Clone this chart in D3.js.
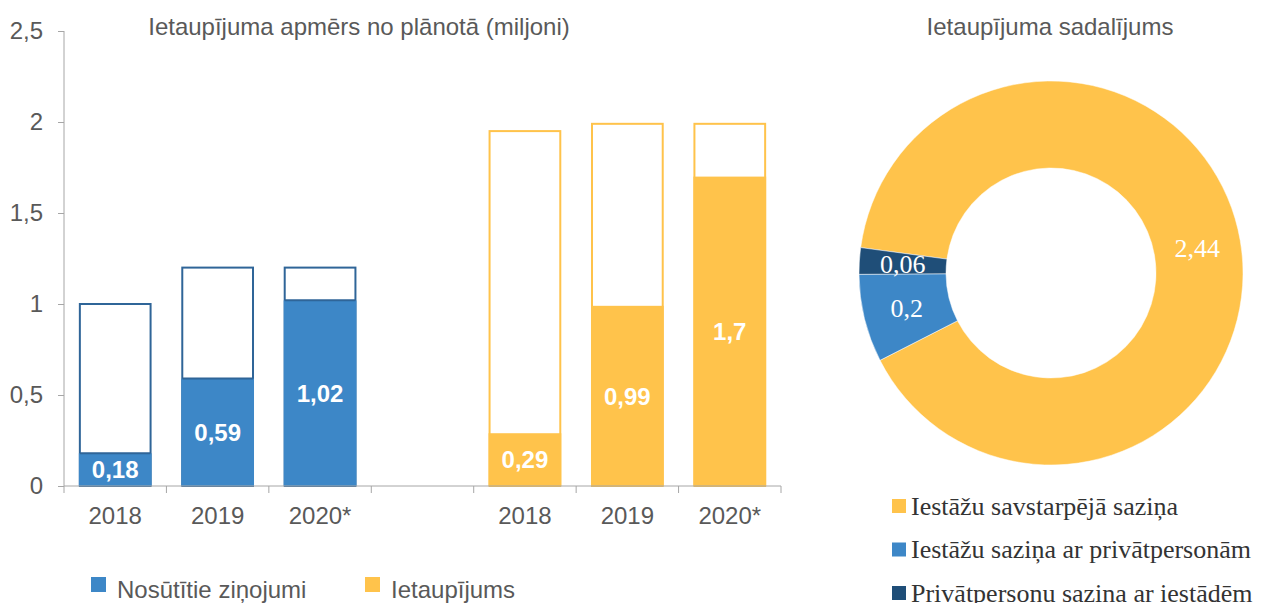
<!DOCTYPE html>
<html>
<head>
<meta charset="utf-8">
<script src="https://cdn.jsdelivr.net/npm/d3@7"></script>
<style>
  body { margin: 0; background: #fff; }
  svg { display: block; }
  .axis path, .axis line { stroke: #a6a6a6; }
  .axis text { fill: #595959; font-family: "Liberation Sans", Arial, sans-serif; font-size: 24px; }
</style>
</head>
<body>
<svg width="1261" height="603"></svg>
<script>
// Bar chart data
const years   = ["2018", "2019", "2020*"];
const sentPlan   = [1.0, 1.2, 1.2];
const sentActual = [0.18, 0.59, 1.02];
const savePlan   = [1.95, 1.99, 1.99];
const saveActual = [0.29, 0.99, 1.7];
const yTicks = [0, 0.5, 1, 1.5, 2, 2.5];

// Donut data
const donutLabels = ["Iestāžu savstarpējā saziņa", "Iestāžu saziņa ar privātpersonām", "Privātpersonu sazina ar iestādēm"];
const donutValues = [2.44, 0.2, 0.06];

const blue = "#3d87c7", blueEdge = "#2f6598", yellow = "#ffc34b", navy = "#1f4e78", grey = "#595959";
const sans = "Liberation Sans, Arial, sans-serif", serif = "Liberation Serif, Times New Roman, serif";
const fmt = v => String(v).replace(".", ",");

const svg = d3.select("svg");

// ---- Left: bars ----
const slots = ["b0", "b1", "b2", "gap", "y0", "y1", "y2"];
const slotLabel = {b0: "2018", b1: "2019", b2: "2020*", gap: "", y0: "2018", y1: "2019", y2: "2020*"};

const x = d3.scaleBand().domain(slots).range([64, 781]).paddingInner(0.29).paddingOuter(0.145);
const xTick = d3.scaleBand().domain(slots).range([64, 781]);
const y = d3.scaleLinear().domain([0, 2.5]).range([486, 31]);

const bars = [];
years.forEach((yr, i) => {
  bars.push({slot: "b" + i, plan: sentPlan[i], actual: sentActual[i], fill: blue, edge: blueEdge});
  bars.push({slot: "y" + i, plan: savePlan[i], actual: saveActual[i], fill: yellow, edge: yellow});
});

const g = svg.append("g");

// plan outlines
g.selectAll(".plan").data(bars).enter().append("rect")
  .attr("class", "plan")
  .attr("x", d => x(d.slot) + 1)
  .attr("width", x.bandwidth() - 2)
  .attr("y", d => y(d.plan))
  .attr("height", d => y(0) - y(d.plan))
  .attr("fill", "#fff")
  .attr("stroke", d => d.edge)
  .attr("stroke-width", 2);

// actual fills
g.selectAll(".actual").data(bars).enter().append("rect")
  .attr("class", "actual")
  .attr("x", d => x(d.slot))
  .attr("width", x.bandwidth())
  .attr("y", d => y(d.actual))
  .attr("height", d => y(0) - y(d.actual))
  .attr("fill", d => d.fill);

// line on top of blue fills (edge continues)
g.selectAll(".topline").data(bars.filter(d => d.edge !== d.fill)).enter().append("line")
  .attr("x1", d => x(d.slot) + 1)
  .attr("x2", d => x(d.slot) + x.bandwidth() - 1)
  .attr("y1", d => y(d.actual))
  .attr("y2", d => y(d.actual))
  .attr("stroke", d => d.edge)
  .attr("stroke-width", 2);

g.selectAll(".val").data(bars).enter().append("text")
  .attr("x", d => x(d.slot) + x.bandwidth() / 2)
  .attr("y", d => (y(d.actual) + y(0)) / 2)
  .attr("dy", "0.36em")
  .attr("text-anchor", "middle")
  .attr("fill", "#fff")
  .attr("font-family", sans)
  .attr("font-weight", "bold")
  .attr("font-size", 24)
  .text(d => fmt(d.actual));

// y axis
svg.append("g")
  .attr("class", "axis")
  .attr("transform", "translate(64,0)")
  .call(d3.axisLeft(y).tickValues(yTicks).tickSize(6).tickSizeOuter(0).tickPadding(15).tickFormat(fmt))
  .select(".domain").attr("d", `M0,${y(2.5)}V${y(0)}`);

// x axis
const xAxis = svg.append("g")
  .attr("class", "axis")
  .attr("transform", `translate(0,${y(0)})`);
xAxis.append("line").attr("x1", 64).attr("x2", 781).attr("stroke", "#a6a6a6");
xAxis.selectAll(".sep").data(slots.concat(["end"])).enter().append("line")
  .attr("x1", (d, i) => i < slots.length ? xTick(d) : 781)
  .attr("x2", (d, i) => i < slots.length ? xTick(d) : 781)
  .attr("y1", 0).attr("y2", 7)
  .attr("stroke", "#a6a6a6");
xAxis.selectAll(".lbl").data(slots).enter().append("text")
  .attr("x", d => x(d) + x.bandwidth() / 2)
  .attr("y", 38)
  .attr("text-anchor", "middle")
  .text(d => slotLabel[d]);

svg.append("text")
  .attr("x", 359).attr("y", 35)
  .attr("text-anchor", "middle")
  .attr("fill", grey)
  .attr("font-family", sans)
  .attr("font-size", 24)
  .text("Ietaupījuma apmērs no plānotā (miljoni)");

// bar legend
const barLegend = [{label: "Nosūtītie ziņojumi", color: blue, x: 91}, {label: "Ietaupījums", color: yellow, x: 365}];
const bl = svg.selectAll(".bleg").data(barLegend).enter().append("g")
  .attr("transform", d => `translate(${d.x},577)`);
bl.append("rect").attr("width", 15).attr("height", 15).attr("fill", d => d.color);
bl.append("text").attr("x", 26).attr("y", 21)
  .attr("fill", grey)
  .attr("font-family", sans)
  .attr("font-size", 24)
  .text(d => d.label);

// ---- Right: donut ----
const cx = 1051, cy = 273;
const donutColors = d3.scaleOrdinal().domain(donutLabels).range([yellow, blue, navy]);
const start = -82.4 * Math.PI / 180;
const pie = d3.pie().sort(null).startAngle(start).endAngle(start + 2 * Math.PI);
const arc = d3.arc().innerRadius(105).outerRadius(192);
const arcs = pie(donutValues);

const dg = svg.append("g").attr("transform", `translate(${cx},${cy})`);
dg.selectAll("path").data(arcs).enter().append("path")
  .attr("d", arc)
  .attr("fill", (d, i) => donutColors(donutLabels[i]))
  .attr("stroke", "#fff")
  .attr("stroke-width", 0.5);
dg.selectAll("text").data(arcs).enter().append("text")
  .attr("transform", d => `translate(${arc.centroid(d)})`)
  .attr("dy", "0.35em")
  .attr("text-anchor", "middle")
  .attr("fill", "#fff")
  .attr("font-family", serif)
  .attr("font-size", 26)
  .text(d => fmt(d.data));

svg.append("text")
  .attr("x", 1050).attr("y", 35)
  .attr("text-anchor", "middle")
  .attr("fill", grey)
  .attr("font-family", sans)
  .attr("font-size", 24)
  .text("Ietaupījuma sadalījums");

const dl = svg.selectAll(".dleg").data(donutLabels).enter().append("g")
  .attr("transform", (d, i) => `translate(892,${499 + i * 43.5})`);
dl.append("rect").attr("width", 14).attr("height", 14).attr("fill", d => donutColors(d));
dl.append("text").attr("x", 19).attr("y", 15.5)
  .attr("fill", "#333")
  .attr("font-family", serif)
  .attr("font-size", 26)
  .text(d => d);
</script>
</body>
</html>
